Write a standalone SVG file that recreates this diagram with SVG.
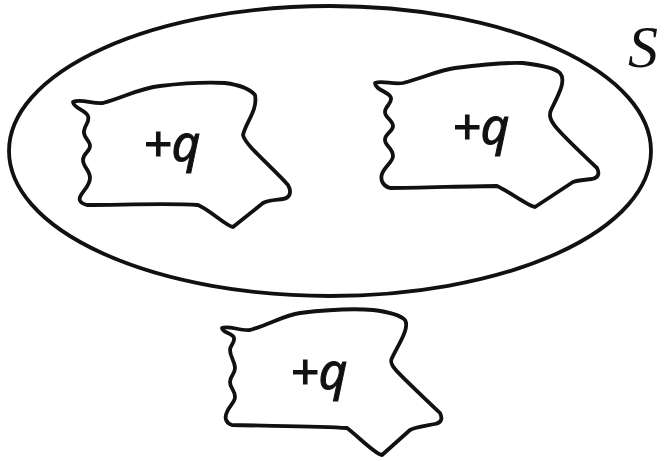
<svg xmlns="http://www.w3.org/2000/svg" width="667" height="461" viewBox="0 0 667 461">
<style>
.ln{fill:none;stroke:#111;stroke-width:3.8;stroke-linejoin:round;stroke-linecap:round}
.lbl{font-family:"Noto Sans","DejaVu Sans",sans-serif;font-style:italic;font-size:50px;fill:#111;stroke:#111;stroke-width:1}
.s{font-family:"Liberation Serif","DejaVu Serif","Times New Roman",serif;font-style:italic;font-size:60px;fill:#111}
</style>
<rect width="667" height="461" fill="#fff"/>
<g id="surface">
<ellipse class="ln" cx="330" cy="151" rx="321" ry="145"/>
<text class="s" x="628" y="67">S</text>
</g>
<g id="charge1">
<path class="ln" d="M73,102 C80,98 92,104 103,103 C125,97 140,88 160,86 C185,83 205,82 225,83 C240,85 250,89 255,95 C258,110 246,122 243,135 C245,145 270,165 288,185 C292,192 290,198 283,199 C275,200 268,200 263,203 L233,227 C226,226 210,210 198,205 C170,203 120,205 87,205 C80,203 78,200 81,195 C84,190 90,185 90,178 C90,170 83,167 83,160 C83,153 90,152 90,146 C90,140 83,138 84,131 C85,124 90,122 88,116 C86,110 73,108 73,102 Z"/>
<text class="lbl" x="143" y="161">+q</text>
</g>
<g id="charge2">
<path class="ln" d="M375,83 C382,80 393,85 403,83 C425,77 440,70 455,68 C480,65 505,62 523,63 C540,65 555,68 560,73 C566,80 560,92 552,108 C545,120 555,128 597,168 C600,174 598,178 592,179 C585,180 578,180 573,182 L535,207 C528,206 510,192 497,186 C470,186 420,188 390,188 C383,186 380,180 382,174 C385,166 393,162 393,156 C393,148 385,146 385,140 C385,133 393,132 393,126 C393,120 385,118 385,112 C385,106 392,104 391,98 C390,92 375,90 375,83 Z"/>
<text class="lbl" x="452" y="144">+q</text>
</g>
<g id="charge3">
<path class="ln" d="M222,328 C228,325 240,331 250,330 C270,324 285,315 300,313 C325,310 350,308 373,310 C390,312 400,315 405,320 C410,328 398,345 392,358 C388,365 395,370 440,413 C443,419 441,423 435,424 C425,426 415,427 410,430 L382,455 C375,454 360,438 347,428 C320,426 270,426 232,425 C226,423 224,418 227,412 C230,405 235,402 235,397 C235,390 230,388 230,382 C230,376 235,374 235,368 C235,361 230,357 230,350 C230,345 235,343 234,338 C233,333 222,333 222,328 Z"/>
<text class="lbl" x="290" y="389">+q</text>
</g>
<g id="connectors"/>
</svg>
